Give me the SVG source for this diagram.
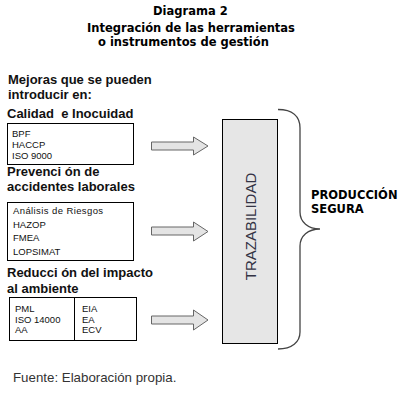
<svg xmlns="http://www.w3.org/2000/svg" width="411" height="402" viewBox="0 0 411 402">
<style>
.title{font-family:"DejaVu Sans",Verdana,sans-serif;font-weight:bold;font-size:11.5px;fill:#000}
.head{font-family:"Liberation Sans",Arial,sans-serif;font-weight:bold;font-size:13px;fill:#111}
.item{font-family:"Liberation Sans",Arial,sans-serif;font-size:9.5px;fill:#111}
.box{fill:#fff;stroke:#000;stroke-width:1}
.arrow{fill:#e4e4e4;stroke:#666;stroke-width:1}
.src{font-family:"Liberation Sans",Arial,sans-serif;font-size:13.3px;fill:#333}
</style>
<rect width="411" height="402" fill="#fff"/>
<g id="title">
<text class="title" x="153" y="15">Diagrama 2</text>
<text class="title" x="87" y="32">Integración de las herramientas</text>
<text class="title" x="98" y="46">o instrumentos de gestión</text>
</g>
<g id="intro">
<text class="head" x="8" y="84">Mejoras que se pueden</text>
<text class="head" x="8" y="98.5">introducir en:</text>
</g>
<g id="calidad">
<text class="head" x="7" y="118" xml:space="preserve">Calidad  e Inocuidad</text>
<rect class="box" x="7.5" y="123.5" width="126" height="41"/>
<text class="item" x="12" y="137">BPF</text>
<text class="item" x="12" y="148">HACCP</text>
<text class="item" x="12" y="159">ISO 9000</text>
</g>
<g id="prevencion">
<text class="head" x="7" y="176">Prevenci ón de</text>
<text class="head" x="7" y="190.5">accidentes laborales</text>
<rect class="box" x="7.5" y="202.5" width="126" height="58"/>
<text class="item" x="13" y="214" font-size="10" letter-spacing="0.4">Análisis de Riesgos</text>
<text class="item" x="13" y="228" font-size="10">HAZOP</text>
<text class="item" x="13" y="241" font-size="10">FMEA</text>
<text class="item" x="13" y="255" font-size="10">LOPSIMAT</text>
</g>
<g id="ambiente">
<text class="head" x="7" y="277">Reducci ón del impacto</text>
<text class="head" x="7" y="293">al ambiente</text>
<rect class="box" x="9.5" y="297.5" width="127" height="43"/>
<line x1="74.5" y1="297.5" x2="74.5" y2="340.5" stroke="#000"/>
<text class="item" x="15" y="312" font-size="10">PML</text>
<text class="item" x="15" y="323" font-size="10">ISO 14000</text>
<text class="item" x="15" y="333" font-size="10">AA</text>
<text class="item" x="82" y="312" font-size="10">EIA</text>
<text class="item" x="82" y="323" font-size="10">EA</text>
<text class="item" x="82" y="333" font-size="10">ECV</text>
</g>
<g id="connectors">
<polygon class="arrow" points="151.5,142 193.5,142 193.5,137 208,146 193.5,155 193.5,150 151.5,150"/>
<polygon class="arrow" points="151.5,227 193.5,227 193.5,222 208,231.5 193.5,241 193.5,235 151.5,235"/>
<polygon class="arrow" points="151.5,316 193.5,316 193.5,310 208,320 193.5,330 193.5,324 151.5,324"/>
</g>
<g id="trazabilidad">
<rect x="222.5" y="119.5" width="55" height="224" fill="#e6e6e6" stroke="#000"/>
<text transform="translate(256,226.5) rotate(-90)" text-anchor="middle" font-family="Liberation Sans,Arial,sans-serif" font-size="15" fill="#334">TRAZABILIDAD</text>
</g>
<g id="produccion">
<path d="M278,109.5 C292,109.5 300,116 300,128 L300,212 C300,222 308,229 320,229 C308,229 300,236 300,246 L300,332 C300,342 292,349 278,349" fill="none" stroke="#444" stroke-width="1.3"/>
<text class="title" x="311" y="199">PRODUCCIÓN</text>
<text class="title" x="311" y="213">SEGURA</text>
</g>
<g id="fuente">
<text class="src" x="13" y="382">Fuente: Elaboración propia.</text>
</g>
</svg>
